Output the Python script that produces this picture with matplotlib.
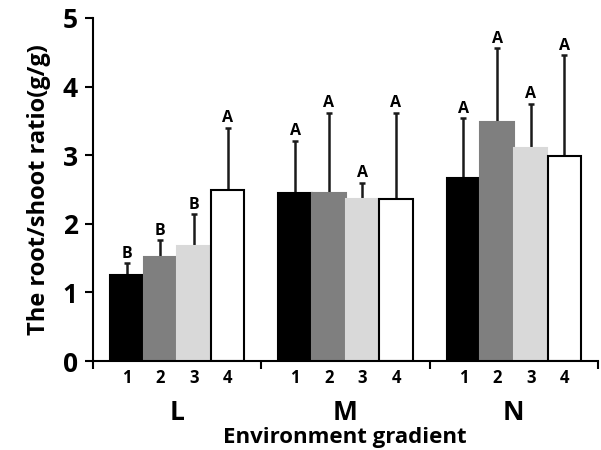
import numpy as np
import matplotlib
matplotlib.use("Agg")
import matplotlib.pyplot as plt

plt.rcParams['font.family'] = ['Open Sans', 'DejaVu Sans']
plt.rcParams['font.weight'] = 'bold'

groups = ['L', 'M', 'N']
treatments = ['1', '2', '3', '4']
# mean root/shoot ratio per group (rows) and treatment (cols)
means = [[1.25, 1.52, 1.68, 2.49],
         [2.45, 2.45, 2.36, 2.36],
         [2.67, 3.48, 3.11, 2.99]]
# upper end of the error bar
err_top = [[1.43, 1.76, 2.14, 3.40],
           [3.21, 3.62, 2.60, 3.62],
           [3.54, 4.56, 3.75, 4.46]]
letters = [['B', 'B', 'B', 'A'],
           ['A', 'A', 'A', 'A'],
           ['A', 'A', 'A', 'A']]
colors = ['#000000', '#7f7f7f', '#d9d9d9', '#ffffff']

means = np.array(means)
err = np.array(err_top) - means

fig = plt.figure(figsize=(6.01, 4.5), dpi=100)
ax = fig.add_axes([93/601, 1-361/450, 505/601, 343/450])

gw = 5  # group width in bar units
for j in range(4):
    x = np.arange(3)*gw + 1 + j
    ax.bar(x, means[:, j], width=1.0, color=colors[j],
           edgecolor='black' if j in (0, 3) else colors[j], linewidth=1.5, zorder=2)
    ax.errorbar(x, means[:, j], yerr=[np.zeros(3), err[:, j]], fmt='none',
                ecolor='#1a1a1a', elinewidth=1.8, capsize=2.5, capthick=1.8, zorder=1)
    for g in range(3):
        ax.text(x[g], err_top[g][j] + 0.02, letters[g][j], ha='center', va='bottom',
                fontsize=11.5, fontweight='bold')

ax.set_xlim(0, 14.85)
ax.set_ylim(0, 5)
ax.set_yticks(range(6))
ax.tick_params(axis='y', labelsize=19, width=1.5, length=6, direction='out', pad=5)

ax.set_xticks([0, 5, 10, 15])
ax.set_xticklabels([])
ax.tick_params(axis='x', width=1.5, length=6, direction='out')

for g in range(3):
    for j, t in enumerate(treatments):
        ax.text(g*gw + 1 + j, -0.12, t, ha='center', va='top', fontsize=12,
                fontweight='bold', clip_on=False)
    ax.text(g*gw + 2.5, -0.55, groups[g], ha='center', va='top', fontsize=19,
            fontweight='bold', clip_on=False)

fig.text(345/601, 1-437/450, 'Environment gradient', ha='center', va='center',
         fontsize=16, fontweight='bold')
ax.set_ylabel('The root/shoot ratio(g/g)', fontsize=17, fontweight='bold', labelpad=8)

for s in ['top', 'right']:
    ax.spines[s].set_visible(False)
for s in ['left', 'bottom']:
    ax.spines[s].set_linewidth(1.5)

fig.savefig('out.png', dpi=100)
